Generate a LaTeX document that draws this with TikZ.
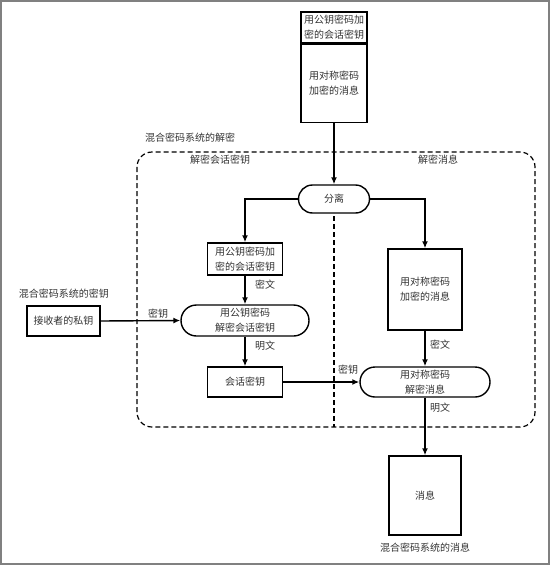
\documentclass[tikz,border=0pt]{standalone}
\usepackage{fontspec}
\newfontfamily\cjk{Noto Sans CJK SC}
\usetikzlibrary{shapes.misc,arrows.meta}
\tikzset{
  every node/.style={font=\cjk\fontsize{10}{15}\selectfont, text=black!80, inner sep=0pt, align=center},
  box/.style={draw=black, line width=1.4pt, rectangle},
  pill/.style={draw=black, line width=1.4pt, rounded rectangle},
  arr/.style={draw=black, line width=1.4pt, -{Latex[length=7pt,width=6pt]}},
  lbl/.style={font=\cjk\fontsize{10}{12}\selectfont},
  region/.style={draw=black, line width=1.2pt, dash pattern=on 5pt off 3pt}
}
\begin{document}
\begin{tikzpicture}[x=1pt,y=-1pt]
\useasboundingbox (0,0) rectangle (550,565);
\draw[gray, line width=2pt] (1,1) rectangle (549,564);

% top input
\node[box, minimum width=66, minimum height=31] (topA) at (334,27.5) {用公钥密码加\\密的会话密钥};
\node[box, minimum width=66, minimum height=78, anchor=north] (topB) at (topA.south) {用对称密码\\加密的消息};

% region
\node[lbl, anchor=west] (regtitle) at (145,138) {混合密码系统的解密};
\draw[region, rounded corners=15pt] (137,152) rectangle (535,427);
\node[lbl] (leftt) at (220,160) {解密会话密钥};
\node[lbl] (rightt) at (438,160) {解密消息};

\node[pill, minimum width=71, minimum height=28] (fenli) at (334,199) {分离};
\coordinate (divtop) at (334,216);
\coordinate (divbot) at (334,427);
\draw[region] (divtop) -- (divbot);

\node[box, minimum width=75, minimum height=32] (boxL) at (245,259) {用公钥密码加\\密的会话密钥};
\node[pill, minimum width=128, minimum height=31] (pill1) at (245,320.5) {用公钥密码\\解密会话密钥};
\node[box, minimum width=75, minimum height=30] (sess) at (245,382) {会话密钥};

\node[box, minimum width=73, minimum height=30] (priv) at (63.5,321) {接收者的私钥};
\node[lbl] (privt) at (64,294) {混合密码系统的密钥};

\node[box, minimum width=74, minimum height=81] (boxR) at (425,289.5) {用对称密码\\加密的消息};
\node[pill, minimum width=130, minimum height=30] (pill2) at (425,382) {用对称密码\\解密消息};
\node[box, minimum width=72, minimum height=79] (msg) at (425,495.5) {消息};
\node[lbl] (msgt) at (425,548) {混合密码系统的消息};

% connectors
\draw[arr] (topB.south) -- (fenli.north);
\draw[arr] (fenli.west) -| (boxL.north);
\draw[arr] (fenli.east) -| (boxR.north);
\draw[arr] (boxL.south) -- (pill1.north);
\draw[arr] (priv.east) -- (pill1.west);
\draw[arr] (pill1.south) -- (sess.north);
\draw[arr] (sess.east) -- (pill2.west);
\draw[arr] (boxR.south) -- (pill2.north);
\draw[arr] (pill2.south) -- (msg.north);

% labels
\node[lbl] (l1) at (265,285) {密文};
\node[lbl] (l2) at (158,314) {密钥};
\node[lbl] (l3) at (265,346) {明文};
\node[lbl] (l4) at (348,370) {密钥};
\node[lbl] (l5) at (440,345) {密文};
\node[lbl] (l6) at (440,408) {明文};
\end{tikzpicture}
\end{document}
